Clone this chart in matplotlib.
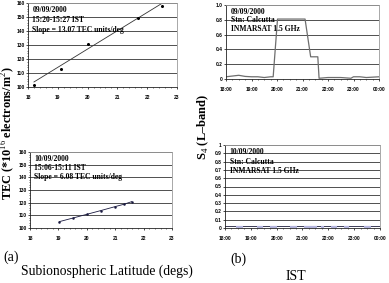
import matplotlib
matplotlib.use("Agg")
import matplotlib.pyplot as plt
from matplotlib.ticker import MultipleLocator, FuncFormatter
import numpy as np

plt.rcParams['font.family'] = ['Liberation Serif', 'DejaVu Serif']
plt.rcParams['mathtext.fontset'] = 'custom'
plt.rcParams['mathtext.rm'] = 'Liberation Serif'
plt.rcParams['mathtext.bf'] = 'Liberation Serif:bold'

# (a) TEC vs subionospheric latitude, 09/09/2000
lat_0909 = [18.2, 19.1, 20.0, 21.7, 22.5]
tec_0909 = [101.5, 113, 130.7, 149, 158]
fit_lat_0909 = [18.2, 22.5]
fit_tec_0909 = [103.6, 159.8]

# (a) 10/09/2000
lat_1009 = [19.03, 19.5, 20.0, 20.5, 21.0, 21.3, 21.58]
tec_1009 = [105, 107.8, 110.8, 113.8, 116.9, 118.7, 120.8]

# (b) S4 vs IST (hours), 09/09/2000
ist_0909 = [18.0, 18.25, 18.5, 18.75, 19.0, 19.25, 19.5, 19.75, 19.85, 20.02, 20.5,
            21.0, 21.1, 21.32, 21.6, 21.65, 22.0, 22.5, 22.9, 23.0, 23.25, 23.5, 24.0]
s4_0909 = [0.03, 0.04, 0.05, 0.035, 0.03, 0.03, 0.02, 0.03, 0.03, 0.81, 0.81,
           0.81, 0.81, 0.30, 0.30, 0.01, 0.02, 0.02, 0.01, 0.03, 0.03, 0.02, 0.03]

# (b) 10/09/2000
ist_1009 = [18.0, 24.0]
s4_1009 = [0.025, 0.025]
lav_start = [18.43, 19.22, 19.74, 20.52, 21.05, 21.70, 22.09, 22.61, 23.40]
lav_end = [18.69, 19.48, 20.00, 20.78, 21.57, 21.83, 22.35, 22.80, 23.66]
lav_val = 0.012

hour_labels = ['18:00', '19:00', '20:00', '21:00', '22:00', '23:00', '00:00']

W, H = 389, 283
fig = plt.figure(figsize=(W / 100, H / 100), dpi=100)


def box(l, r, t, b):
    return [l / W, 1 - b / H, (r - l) / W, (b - t) / H]


def style(ax):
    for s in ['top', 'right']:
        ax.spines[s].set_color('#9a9a9a')
        ax.spines[s].set_linewidth(0.6)
    for s in ['left', 'bottom']:
        ax.spines[s].set_color('#222222')
        ax.spines[s].set_linewidth(0.6)
    ax.yaxis.grid(True, color='#333333', linewidth=0.6)
    ax.set_axisbelow(True)
    ax.tick_params(which='major', length=1.5, width=0.5, labelsize=3.5)
    ax.tick_params(which='minor', length=1, width=0.4)
    ax.tick_params(axis='x', which='major', pad=4)
    ax.tick_params(axis='y', which='major', pad=0.8)
    for lab in ax.get_xticklabels() + ax.get_yticklabels():
        lab.set_family('Liberation Sans')
        lab.set_fontweight('bold')


def notes(ax, lines):
    for i, s in enumerate(lines):
        ax.text(0.03, 0.96 - i * 0.115, s, transform=ax.transAxes, fontsize=5.5,
                fontweight='bold', va='top', ha='left')


def tec_axes(ax):
    ax.set_xlim(18, 23)
    ax.set_ylim(100, 160)
    ax.xaxis.set_major_locator(MultipleLocator(1))
    ax.yaxis.set_major_locator(MultipleLocator(10))
    ax.xaxis.set_minor_locator(MultipleLocator(0.2))
    ax.yaxis.set_minor_locator(MultipleLocator(2))
    style(ax)


def s4_axes(ax, step, fmt):
    ax.set_xlim(18, 24)
    ax.set_ylim(0, 1)
    ax.set_xticks(np.arange(18, 25))
    ax.set_xticklabels(hour_labels)
    ax.xaxis.set_minor_locator(MultipleLocator(0.25))
    ax.yaxis.set_major_locator(MultipleLocator(step))
    ax.yaxis.set_major_formatter(FuncFormatter(fmt))
    style(ax)


ax1 = fig.add_axes(box(28, 177, 3, 87))
ax1.plot(fit_lat_0909, fit_tec_0909, color='#333333', lw=0.6)
ax1.plot(lat_0909, tec_0909, 'o', color='black', ms=1.2)
tec_axes(ax1)
notes(ax1, ['09/09/2000', '15:20-15:27 IST', 'Slope = 13.07 TEC units/deg'])

ax2 = fig.add_axes(box(30, 172, 152, 228))
ax2.plot(lat_1009, tec_1009, color='#1a1a40', lw=0.6, marker='o', ms=0.8)
tec_axes(ax2)
notes(ax2, ['10/09/2000', '15:06-15:11 IST', 'Slope = 6.08 TEC units/deg'])

ax3 = fig.add_axes(box(226, 379, 5, 79))
ax3.plot(ist_0909, s4_0909, color='#6e6e6e', lw=0.9)
s4_axes(ax3, 0.2, lambda v, p: '0' if v == 0 else ('1' if v == 1 else f'{v:.1f}'))
notes(ax3, ['09/09/2000', 'Stn: Calcutta', 'INMARSAT 1.5 GHz'])

ax4 = fig.add_axes(box(225, 380, 145, 228))
ax4.plot(ist_1009, s4_1009, color='#3a3a55', lw=0.7)
for a, b in zip(lav_start, lav_end):
    ax4.plot([a, b], [lav_val, lav_val], color='#b4b4dc', lw=1.6, solid_capstyle='butt')
s4_axes(ax4, 0.1, lambda v, p: '0' if v == 0 else ('1' if v == 1 else f'{v:.1f}'))
notes(ax4, ['10/09/2000', 'Stn: Calcutta', 'INMARSAT 1.5 GHz'])

fig.text(8.5 / W, 1 - 133 / H, 'TEC (*10$^{16}$ electrons/m$^{2}$)', rotation=90,
         fontsize=8.8, fontweight='bold', ha='center', va='center')
fig.text(203 / W, 1 - 127 / H, 'S$_4$ (L\u2013band)', rotation=90,
         fontsize=9, fontweight='bold', ha='center', va='center')
fig.text(11 / W, 1 - 257 / H, '(a)', fontsize=10, ha='center', va='center')
fig.text(107 / W, 1 - 271 / H, 'Subionospheric Latitude (degs)', fontsize=9.8,
         ha='center', va='center')
fig.text(238 / W, 1 - 259 / H, '(b)', fontsize=10, ha='center', va='center')
fig.text(296 / W, 1 - 276 / H, 'IST', fontsize=10, ha='center', va='center')

fig.savefig('out.png', dpi=100)
